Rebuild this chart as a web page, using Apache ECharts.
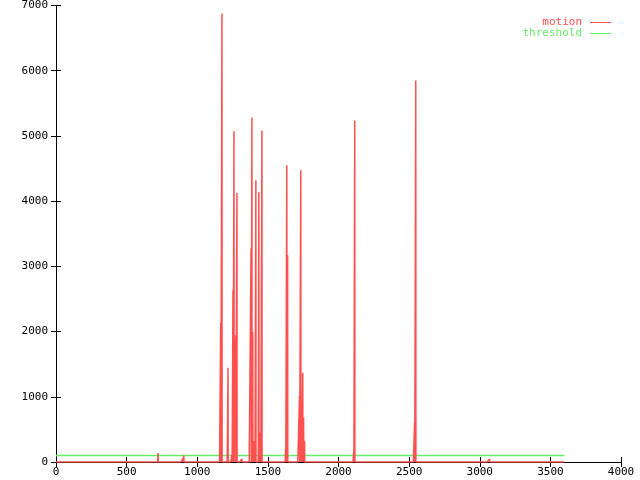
<!DOCTYPE html>
<html>
<head>
<meta charset="utf-8">
<script src="https://cdn.jsdelivr.net/npm/echarts@6/dist/echarts.min.js"></script>
<style>
  html, body { margin: 0; padding: 0; background: #fff; }
  #chart { width: 640px; height: 480px; }
</style>
</head>
<body>
<div id="chart"></div>
<script>
// motion readings (seconds -> value), zero everywhere else
const spikeTimes = [723, 898, 905, 1166, 1175, 1218, 1246, 1253, 1260, 1272, 1281, 1286, 1316, 1325,
  1381, 1387, 1393, 1400, 1408, 1415, 1425, 1436, 1442, 1449, 1458, 1609, 1626, 1634, 1640,
  1705, 1724, 1733, 1739, 1747, 1753, 1760, 1766, 2108, 2115, 2539, 2547, 3069];
const spikeValues = [138, 55, 100, 2134, 6877, 1445, 122, 2635, 5070, 1945, 4125, 15, 46, 17,
  3278, 5284, 1996, 322, 286, 4319, 20, 4136, 449, 311, 5085, 15, 199, 4549, 3171,
  30, 1011, 4472, 184, 1368, 679, 322, 17, 168, 5238, 613, 5851, 46];
const duration = 3600;

const thresholdTimes = [0, 3600];
const thresholdValues = [100, 100];

const xTicks = [0, 500, 1000, 1500, 2000, 2500, 3000, 3500, 4000];
const yTicks = [0, 1000, 2000, 3000, 4000, 5000, 6000, 7000];

const motionRed = '#ff5050';
const thresholdGreen = '#66ee66';

// build per-second series from the listed readings
const motionData = [];
for (let t = 0; t <= duration; t++) motionData.push([t, 0]);
spikeTimes.forEach((t, i) => { motionData[t][1] = spikeValues[i]; });
const thresholdData = thresholdTimes.map((t, i) => [t, thresholdValues[i]]);

const font = 'DejaVu Sans Mono';
const plain = v => String(v);
const axisCommon = {
  type: 'value',
  axisLine: { show: true, lineStyle: { color: '#000', width: 1 } },
  axisTick: { show: true, inside: true, length: 5, lineStyle: { color: '#000' } },
  splitLine: { show: false }
};

const chart = echarts.init(document.getElementById('chart'), null, { renderer: 'canvas' });
chart.setOption({
  animation: false,
  backgroundColor: '#fff',
  textStyle: { fontFamily: font },
  grid: { left: 56, right: 19, top: 5, bottom: 18, containLabel: false },
  legend: {
    orient: 'vertical',
    right: 24,
    top: 12,
    align: 'right',
    icon: 'rect',
    itemWidth: 21,
    itemHeight: 1,
    itemGap: 0,
    textStyle: { fontFamily: font, fontSize: 11, lineHeight: 11, padding: [0, 3, 0, 0] },
    data: [
      { name: 'motion', textStyle: { color: motionRed } },
      { name: 'threshold', textStyle: { color: thresholdGreen } }
    ]
  },
  xAxis: [
    Object.assign({}, axisCommon, {
      position: 'bottom', min: xTicks[0], max: xTicks[xTicks.length - 1], interval: 500,
      axisLabel: { color: '#000', fontFamily: font, fontSize: 11, margin: 5, formatter: plain }
    }),
    Object.assign({}, axisCommon, {
      position: 'top', min: xTicks[0], max: xTicks[xTicks.length - 1], interval: 500,
      axisLabel: { show: false }
    })
  ],
  yAxis: [
    Object.assign({}, axisCommon, {
      position: 'left', min: yTicks[0], max: yTicks[yTicks.length - 1], interval: 1000,
      axisLabel: { color: '#000', fontFamily: font, fontSize: 11, margin: 8, formatter: plain }
    }),
    Object.assign({}, axisCommon, {
      position: 'right', min: yTicks[0], max: yTicks[yTicks.length - 1], interval: 1000,
      axisLabel: { show: false }
    })
  ],
  series: [
    {
      name: 'motion',
      type: 'line',
      data: motionData,
      showSymbol: false,
      symbol: 'none',
      sampling: null,
      lineStyle: { color: motionRed, width: 1.5 },
      itemStyle: { color: motionRed },
      z: 3
    },
    {
      name: 'threshold',
      type: 'line',
      data: thresholdData,
      showSymbol: false,
      symbol: 'none',
      lineStyle: { color: thresholdGreen, width: 1.5 },
      itemStyle: { color: thresholdGreen },
      z: 2
    }
  ]
});
</script>
</body>
</html>
